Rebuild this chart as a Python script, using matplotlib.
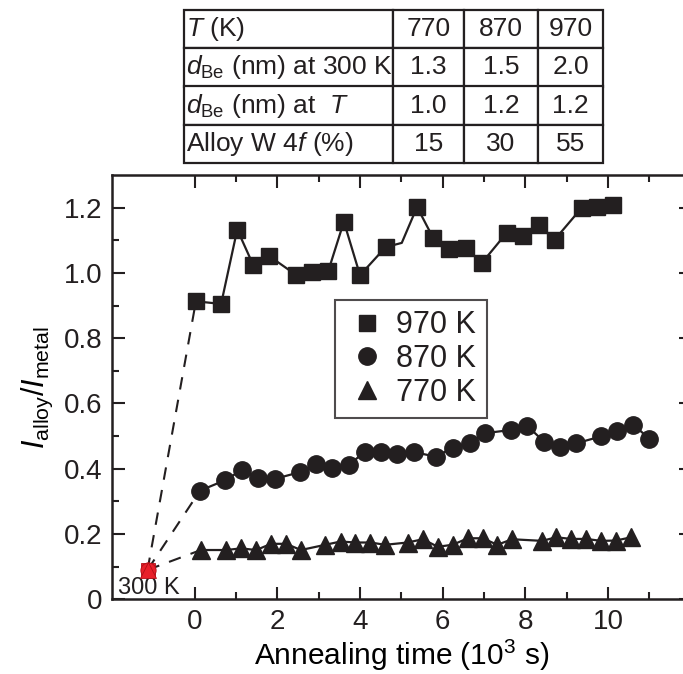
import matplotlib
matplotlib.use('Agg')
import matplotlib.pyplot as plt
from matplotlib.lines import Line2D

plt.rcParams['font.family'] = ['Liberation Sans', 'DejaVu Sans']
plt.rcParams['mathtext.fontset'] = 'custom'
plt.rcParams['mathtext.rm'] = 'Liberation Sans'
plt.rcParams['mathtext.it'] = 'Liberation Sans:italic'
plt.rcParams['text.color'] = '#231f20'

INK = '#231f20'

# 970 K (squares); the point at 5.01 shows as a kink with no marker
t_970 = [0.03, 0.64, 1.03, 1.42, 1.81, 2.44, 2.83, 3.23, 3.61, 4.0, 4.62, 5.01,
         5.38, 5.77, 6.16, 6.57, 6.95, 7.55, 7.94, 8.32, 8.71, 9.36, 9.74, 10.13]
r_970 = [0.913, 0.905, 1.133, 1.023, 1.051, 0.995, 1.002, 1.005, 1.157, 0.993, 1.079, 1.092,
         1.202, 1.107, 1.074, 1.075, 1.031, 1.123, 1.112, 1.146, 1.102, 1.199, 1.202, 1.209]
hidden_970 = [11]

# 870 K (circles)
t_870 = [0.13, 0.74, 1.15, 1.54, 1.94, 2.56, 2.94, 3.33, 3.73, 4.11, 4.51, 4.9, 5.3,
         5.84, 6.24, 6.65, 7.03, 7.66, 8.04, 8.46, 8.85, 9.23, 9.83, 10.22, 10.61, 11.0]
r_870 = [0.333, 0.365, 0.397, 0.371, 0.369, 0.390, 0.415, 0.402, 0.412, 0.451, 0.451, 0.446, 0.451,
         0.437, 0.465, 0.480, 0.509, 0.519, 0.532, 0.482, 0.468, 0.478, 0.499, 0.516, 0.535, 0.492]

# 770 K (triangles)
t_770 = [0.15, 0.76, 1.12, 1.49, 1.85, 2.21, 2.57, 3.16, 3.53, 3.89, 4.25, 4.61, 5.15, 5.52,
         5.88, 6.24, 6.61, 6.97, 7.32, 7.68, 8.41, 8.74, 9.11, 9.47, 9.83, 10.19, 10.56]
r_770 = [0.151, 0.151, 0.156, 0.151, 0.170, 0.170, 0.151, 0.167, 0.177, 0.174, 0.174, 0.167, 0.174, 0.184,
         0.161, 0.167, 0.187, 0.187, 0.167, 0.184, 0.179, 0.190, 0.185, 0.185, 0.179, 0.180, 0.190]

# as-deposited state at 300 K
t_300 = -1.14
r_300 = 0.09

table_rows = [
    [r'$T$ (K)', '770', '870', '970'],
    [r'$d_{\mathrm{Be}}$ (nm) at 300 K', '1.3', '1.5', '2.0'],
    [r'$d_{\mathrm{Be}}$ (nm) at  $T$', '1.0', '1.2', '1.2'],
    [r'Alloy W 4$f$ (%)', '15', '30', '55'],
]

W, H = 683, 674
fig = plt.figure(figsize=(W / 100, H / 100), dpi=100)
ax = fig.add_axes([112 / W, 1 - 599.3 / H, 578.7 / W, 424.3 / H])

series = [
    (t_970, r_970, 's', 11, '970 K'),
    (t_870, r_870, 'o', 12.5, '870 K'),
    (t_770, r_770, '^', 12.5, '770 K'),
]

# dashed guides from the 300 K point to the first point of each anneal
for t, r, m, ms, lab in series:
    ax.plot([t_300, t[0]], [r_300, r[0]], color=INK, lw=1.5, dashes=(6, 5), zorder=2)

for t, r, m, ms, lab in series:
    every = [i for i in range(len(t)) if not (m == 's' and i in hidden_970)]
    ax.plot(t, r, color=INK, lw=1.6, marker=m, ms=ms, markevery=every,
            mfc=INK, mec=INK, zorder=3)

for m, ms in [('s', 10), ('o', 11), ('^', 11)]:
    ax.plot([t_300], [r_300], marker=m, ms=ms, mfc='#e8202a', mec='#b01018',
            mew=0.6, ls='none', zorder=4)

ax.text(-1.85, 0.035, '300 K', fontsize=17, va='center', ha='left', color=INK)

ax.set_xlim(-2, 12)
ax.set_ylim(0, 1.3)
ax.set_xticks([0, 2, 4, 6, 8, 10])
ax.set_xticks([1, 3, 5, 7, 9, 11], minor=True)
ax.set_yticks([0, 0.2, 0.4, 0.6, 0.8, 1.0, 1.2])
ax.set_yticklabels(['0', '0.2', '0.4', '0.6', '0.8', '1.0', '1.2'])
ax.set_yticks([0.1, 0.3, 0.5, 0.7, 0.9, 1.1], minor=True)
ax.tick_params(which='both', direction='in', top=True, right=True,
               labelsize=20, colors=INK, width=1.5, pad=7)
ax.tick_params(which='major', length=9)
ax.tick_params(which='minor', length=5)
for s in ax.spines.values():
    s.set_linewidth(1.8)
    s.set_color(INK)

ax.set_xlabel(r'Annealing time (10$^{3}$ s)', fontsize=21.5, labelpad=2)
ax.set_ylabel(r'$I_{\mathrm{alloy}}/I_{\mathrm{metal}}$', fontsize=22, labelpad=6)

handles = [Line2D([], [], ls='none', marker=m, ms=ms, color=INK) for _, _, m, ms, _ in series]
labels = [lab for *_, lab in series]
leg = ax.legend(handles, labels, loc='upper left', bbox_to_anchor=(0.385, 0.706),
                fontsize=22, frameon=True, fancybox=False, handlelength=1.4,
                handletextpad=0.25, borderpad=0.35, labelspacing=0.12, borderaxespad=0)
leg.get_frame().set_edgecolor(INK)
leg.get_frame().set_linewidth(1.5)

# parameter table above the plot
tax = fig.add_axes([184 / W, 1 - 163 / H, 419 / W, 153 / H])
tax.axis('off')
col_w = [209, 71, 74, 65]
tot = sum(col_w)
tbl = tax.table(cellText=table_rows, colWidths=[c / tot for c in col_w],
                cellLoc='center', bbox=[0, 0, 1, 1])
tbl.auto_set_font_size(False)
tbl.set_fontsize(19)
for (i, j), cell in tbl.get_celld().items():
    cell.set_linewidth(1.6)
    cell.set_edgecolor(INK)
    cell.get_text().set_color(INK)
    cell.get_text().set_fontsize(19)
    if j == 0:
        cell.get_text().set_horizontalalignment('left')
        cell.PAD = 0.01

fig.savefig('out.png', dpi=100)
